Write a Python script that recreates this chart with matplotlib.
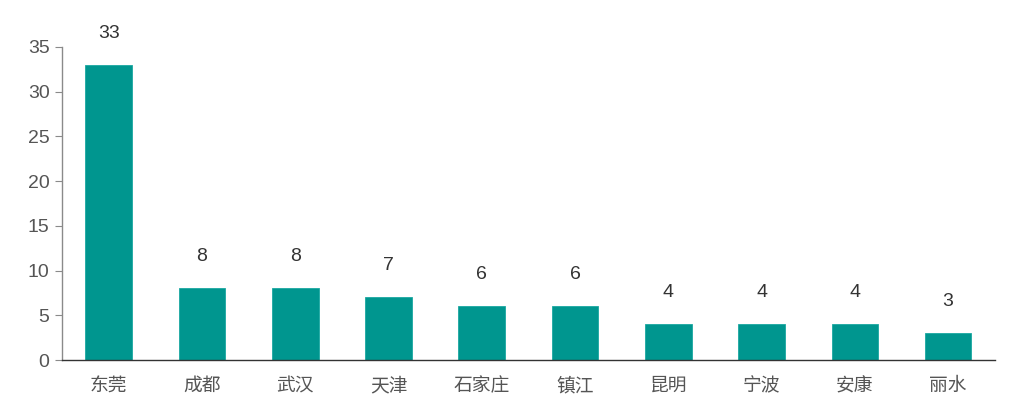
import matplotlib
matplotlib.use("Agg")
import matplotlib.pyplot as plt

plt.rcParams['font.family'] = ['Liberation Sans', 'Noto Sans CJK SC', 'DejaVu Sans']

cities = ["东莞", "成都", "武汉", "天津", "石家庄", "镇江", "昆明", "宁波", "安康", "丽水"]
counts = [33, 8, 8, 7, 6, 6, 4, 4, 4, 3]
yticks = [0, 5, 10, 15, 20, 25, 30, 35]

fig = plt.figure(figsize=(10.13, 4.15), dpi=100)
ax = fig.add_axes([0.0612, 0.1325, 0.9208, 0.7545])

x = list(range(len(cities)))
ax.bar(x, counts, width=0.5, color="#00968F", edgecolor="#1AA8A2", linewidth=0.6, zorder=2)

for xi, v in zip(x, counts):
    ax.annotate(str(v), (xi, v), xytext=(0, 23), textcoords="offset pixels",
                ha="center", va="bottom", fontsize=14, color="#333333")

ax.set_xlim(-0.5, len(cities) - 0.5)
ax.set_ylim(0, 35)
ax.set_yticks(yticks)
ax.set_yticklabels([str(t) for t in yticks])
ax.set_xticks(x)
ax.set_xticklabels(cities)

for s in ["top", "right"]:
    ax.spines[s].set_visible(False)
ax.spines["left"].set_color("#8a8a8a")
ax.spines["left"].set_linewidth(1.0)
ax.spines["bottom"].set_color("#333333")
ax.spines["bottom"].set_linewidth(1.0)

ax.tick_params(axis="y", length=5, color="#8a8a8a", labelsize=14, labelcolor="#555555", pad=4)
ax.tick_params(axis="x", length=0, labelsize=13.5, labelcolor="#555555", pad=13)

fig.savefig("out.png", dpi=100)
